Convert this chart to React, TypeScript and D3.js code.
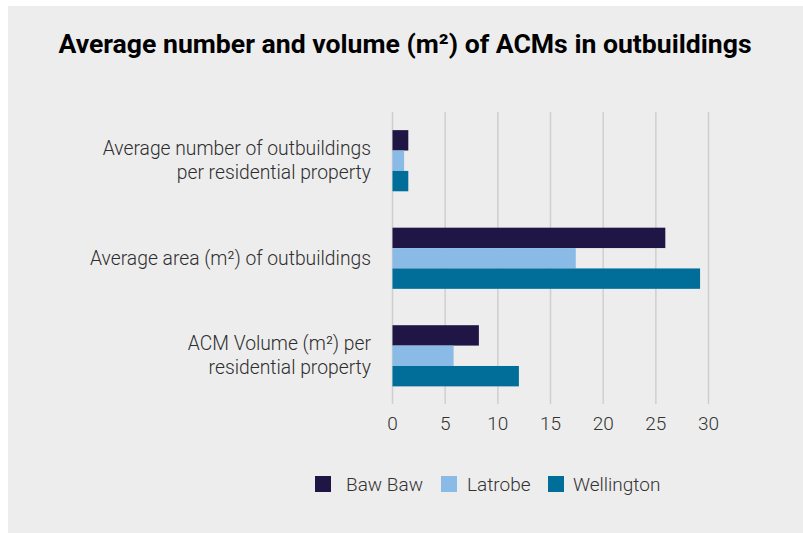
import React from "react";
import * as d3 from "d3";

const categories = [
  ["Average number of outbuildings", "per residential property"],
  ["Average area (m²) of outbuildings"],
  ["ACM Volume (m²) per", "residential property"],
];
const categoryKeys = ["num", "area", "vol"];
const seriesNames = ["Baw Baw", "Latrobe", "Wellington"];
const seriesColors = ["#1f1646", "#8abbe6", "#006e99"];
const bawBaw = [1.5, 25.9, 8.2];
const latrobe = [1.1, 17.4, 5.8];
const wellington = [1.5, 29.2, 12.0];
const xTicks = [0, 5, 10, 15, 20, 25, 30];

const W = 803;
const H = 533;

export default function App() {
  const seriesValues = [bawBaw, latrobe, wellington];
  const x = d3.scaleLinear().domain([0, 30]).range([392.5, 708.5]);
  const y0 = d3
    .scaleBand<string>()
    .domain(categoryKeys)
    .range([112, 404.5])
    .paddingInner(0.373)
    .paddingOuter(0.186);
  const y1 = d3
    .scaleBand<string>()
    .domain(seriesNames)
    .range([0, y0.bandwidth()]);

  const font = "Roboto, 'Noto Sans', sans-serif";
  const legendX = [315, 441, 548];
  const legendTextX = [346, 467, 573];

  return (
    <svg
      width={W}
      height={H}
      style={{ position: "absolute", left: 0, top: 0, display: "block" }}
    >
      <rect x={0} y={0} width={W} height={H} fill="#ffffff" />
      <rect x={8} y={6} width={W - 8} height={H - 6} fill="#ededed" />
      <text
        x={405}
        y={53}
        textAnchor="middle"
        fontFamily={font}
        fontWeight={700}
        fontSize={26.6}
        fill="#000"
      >
        Average number and volume (m²) of ACMs in outbuildings
      </text>
      {xTicks.map((t) => (
        <g key={t}>
          <line
            x1={x(t)}
            x2={x(t)}
            y1={112}
            y2={404}
            stroke="#cfcfcf"
            strokeWidth={1.5}
          />
          <text
            x={x(t)}
            y={430}
            textAnchor="middle"
            fontFamily={font}
            fontWeight={300}
            fontSize={19}
            fill="#333"
          >
            {t}
          </text>
        </g>
      ))}
      {categoryKeys.map((k, ci) => (
        <g key={k} transform={`translate(0,${y0(k)})`}>
          {seriesNames.map((s, si) => (
            <rect
              key={s}
              x={x(0)}
              y={y1(s)}
              width={x(seriesValues[si][ci]) - x(0)}
              height={y1.bandwidth()}
              fill={seriesColors[si]}
            />
          ))}
          {categories[ci].map((line, li) => {
            const n = categories[ci].length;
            const mid = y0.bandwidth() / 2;
            const yy = mid + (li - (n - 1) / 2) * 24 + 6.5;
            return (
              <text
                key={li}
                x={371}
                y={yy}
                textAnchor="end"
                fontFamily={font}
                fontWeight={300}
                fontSize={19.3}
                fill="#2e2e2e"
              >
                {line}
              </text>
            );
          })}
        </g>
      ))}
      {seriesNames.map((s, si) => (
        <g key={s}>
          <rect
            x={legendX[si]}
            y={476}
            width={16}
            height={16}
            fill={seriesColors[si]}
          />
          <text
            x={legendTextX[si]}
            y={491}
            fontFamily={font}
            fontWeight={300}
            fontSize={19}
            fill="#333"
          >
            {s}
          </text>
        </g>
      ))}
    </svg>
  );
}
